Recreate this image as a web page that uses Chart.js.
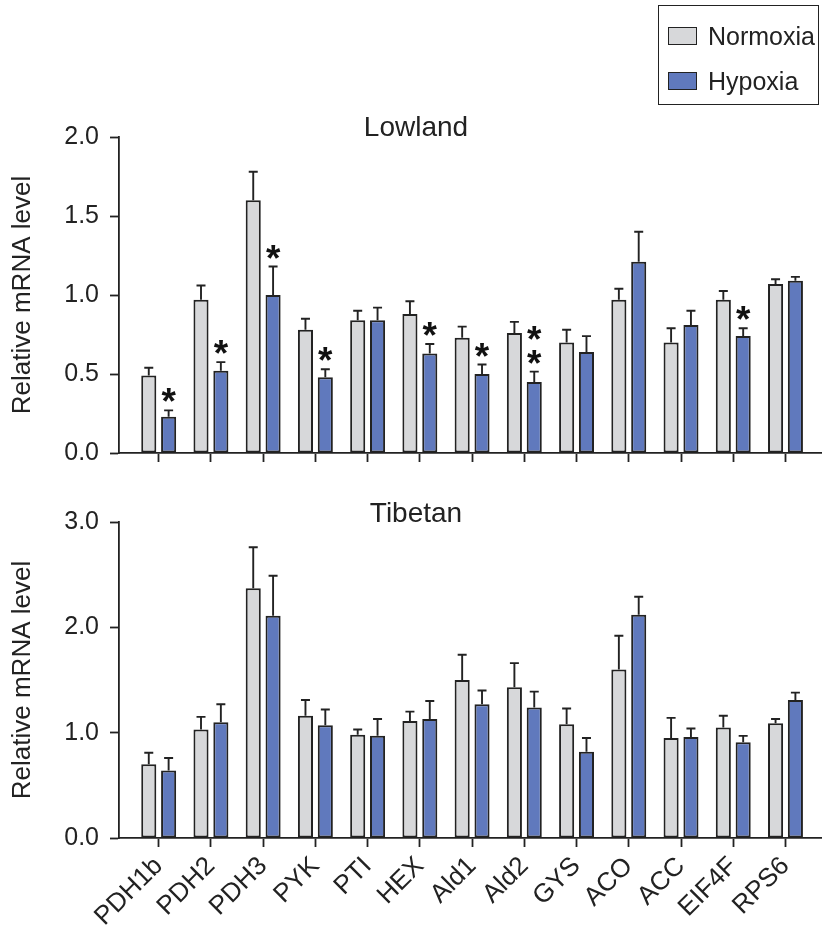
<!DOCTYPE html>
<html>
<head>
<meta charset="utf-8">
<script src="https://cdn.jsdelivr.net/npm/chart.js@4.4.1/dist/chart.umd.min.js"></script>
<style>
body{margin:0;background:#fff;font-family:"Liberation Sans",Arial,sans-serif;color:#222}
#wrap{position:relative;width:822px;height:930px;overflow:hidden}
canvas{position:absolute;left:0}
.ttl{position:absolute;left:316px;width:200px;text-align:center;font-size:28px;line-height:28px}
#legend{position:absolute;left:658px;top:5px;width:159px;height:98px;border:1.5px solid #222}
.row{position:absolute;left:9px;height:30px;display:flex;align-items:center;font-size:25px}
.sw{width:27px;height:16px;border:1.5px solid #222;margin-right:11px}
</style>
</head>
<body>
<div id="wrap">
  <canvas id="low" width="822" height="480" style="top:0"></canvas>
  <canvas id="tib" width="822" height="450" style="top:480px"></canvas>
  <div class="ttl" style="top:113px">Lowland</div>
  <div class="ttl" style="top:499px">Tibetan</div>
  <div id="legend">
    <div class="row" style="top:15px"><span class="sw" style="background:#d7d8da"></span>Normoxia</div>
    <div class="row" style="top:60px"><span class="sw" style="background:#6079bd"></span>Hypoxia</div>
  </div>
</div>
<script>
const genes = ['PDH1b','PDH2','PDH3','PYK','PTI','HEX','Ald1','Ald2','GYS','ACO','ACC','EIF4F','RPS6'];

// Lowland: mean and SEM
const lowNorm    = [0.49, 0.97, 1.60, 0.78, 0.84, 0.88, 0.73, 0.76, 0.70, 0.97, 0.70, 0.97, 1.07];
const lowNormErr = [0.05, 0.09, 0.18, 0.07, 0.06, 0.08, 0.07, 0.07, 0.08, 0.07, 0.09, 0.055, 0.03];
const lowHyp     = [0.23, 0.52, 1.00, 0.48, 0.84, 0.63, 0.50, 0.45, 0.64, 1.21, 0.81, 0.74, 1.09];
const lowHypErr  = [0.04, 0.055, 0.18, 0.05, 0.08, 0.06, 0.06, 0.065, 0.10, 0.19, 0.09, 0.05, 0.025];
const lowStars   = [1, 1, 1, 1, 0, 1, 1, 2, 0, 0, 0, 1, 0];

// Tibetan: mean and SEM
const tibNorm    = [0.70, 1.03, 2.37, 1.16, 0.98, 1.11, 1.50, 1.43, 1.08, 1.60, 0.95, 1.05, 1.09];
const tibNormErr = [0.11, 0.12, 0.39, 0.15, 0.05, 0.09, 0.24, 0.23, 0.15, 0.32, 0.19, 0.11, 0.04];
const tibHyp     = [0.64, 1.10, 2.11, 1.07, 0.97, 1.13, 1.27, 1.24, 0.82, 2.12, 0.96, 0.91, 1.31];
const tibHypErr  = [0.12, 0.17, 0.38, 0.15, 0.16, 0.17, 0.13, 0.15, 0.13, 0.17, 0.08, 0.06, 0.07];
const tibStars   = [0, 0, 0, 0, 0, 0, 0, 0, 0, 0, 0, 0, 0];

const INK = '#222';
const FONT = '"Liberation Sans", Arial, sans-serif';

// upward error bars with a small cap
const errorBars = {
  id: 'errorBars',
  afterDatasetsDraw(chart) {
    const ctx = chart.ctx, ys = chart.scales.y;
    ctx.save();
    ctx.strokeStyle = INK; ctx.lineWidth = 1.9;
    chart.data.datasets.forEach((ds, i) => {
      chart.getDatasetMeta(i).data.forEach((bar, j) => {
        const top = ys.getPixelForValue(ds.data[j].y + ds.err[j]);
        ctx.beginPath();
        ctx.moveTo(bar.x, bar.y); ctx.lineTo(bar.x, top);
        ctx.moveTo(bar.x - 4.5, top); ctx.lineTo(bar.x + 4.5, top);
        ctx.stroke();
      });
    });
    ctx.restore();
  }
};

// significance asterisks above the hypoxia bars
const sigStars = {
  id: 'sigStars',
  afterDatasetsDraw(chart) {
    const ctx = chart.ctx, ys = chart.scales.y;
    const ds = chart.data.datasets[1];
    ctx.save();
    ctx.fillStyle = '#111';
    ctx.font = 'bold 37px ' + FONT;
    ctx.textAlign = 'center';
    ctx.textBaseline = 'alphabetic';
    const m = ctx.measureText('*');
    const mid = (m.actualBoundingBoxDescent - m.actualBoundingBoxAscent) / 2;
    chart.getDatasetMeta(1).data.forEach((bar, j) => {
      const top = ys.getPixelForValue(ds.data[j].y + ds.err[j]);
      for (let s = 0; s < ds.stars[j]; s++) {
        const cy = top - 15 - s * 23.5;
        ctx.fillText('*', bar.x, cy - mid);
      }
    });
    ctx.restore();
  }
};

function makeChart(id, norm, normErr, hyp, hypErr, stars, yMax, yStep, showLabels, padTop, xHeight) {
  const barStyle = {borderColor: INK, borderWidth: 2, borderSkipped: false,
                    barPercentage: 0.76, categoryPercentage: 0.76};
  return new Chart(document.getElementById(id), {
    type: 'bar',
    data: {
      datasets: [
        Object.assign({label: 'Normoxia', data: norm.map((v, i) => ({x: i, y: v})), err: normErr,
                       backgroundColor: '#d7d8da'}, barStyle),
        Object.assign({label: 'Hypoxia', data: hyp.map((v, i) => ({x: i, y: v})), err: hypErr,
                       stars: stars, backgroundColor: '#6079bd'}, barStyle)
      ]
    },
    options: {
      responsive: false,
      animation: false,
      layout: {padding: {top: padTop, left: 0, right: 1, bottom: 0}},
      plugins: {legend: {display: false}, tooltip: {enabled: false}},
      scales: {
        x: {
          type: 'linear', min: -0.76, max: 12.68, offset: false,
          afterBuildTicks: s => { s.ticks = genes.map((g, i) => ({value: i})); },
          afterFit: s => { s.height = xHeight; },
          grid: {offset: false, drawOnChartArea: false, drawTicks: true, tickLength: 9,
                 tickColor: INK, tickWidth: 1.8},
          border: {color: INK, width: 1.8},
          ticks: {
            display: showLabels, autoSkip: false, minRotation: 45, maxRotation: 45, padding: 4,
            color: INK, font: {family: FONT, size: 26},
            callback: v => genes[v]
          }
        },
        y: {
          min: 0, max: yMax,
          afterFit: s => { s.width = 119; },
          grid: {drawOnChartArea: false, drawTicks: true, tickLength: 9, tickColor: INK, tickWidth: 1.8},
          border: {color: INK, width: 1.8},
          ticks: {stepSize: yStep, padding: 11, color: INK, font: {family: FONT, size: 25},
                  callback: v => v.toFixed(1)},
          title: {display: true, text: 'Relative mRNA level', color: INK,
                  font: {family: FONT, size: 26}, padding: {top: 7, bottom: 0}}
        }
      }
    },
    plugins: [errorBars, sigStars]
  });
}

makeChart('low', lowNorm, lowNormErr, lowHyp, lowHypErr, lowStars, 2, 0.5, false, 137, 27);
makeChart('tib', tibNorm, tibNormErr, tibHyp, tibHypErr, tibStars, 3, 1, true, 42, 92);
</script>
</body>
</html>
